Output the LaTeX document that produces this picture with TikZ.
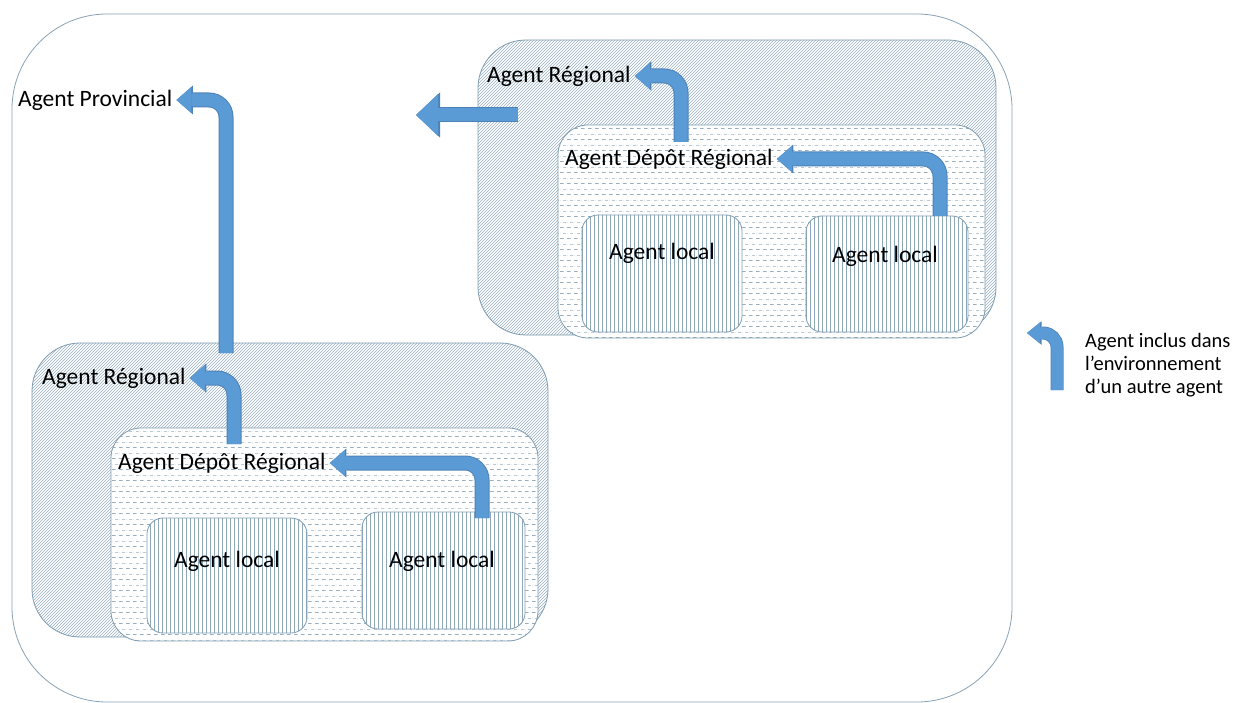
\documentclass[tikz,border=0pt]{standalone}
\usepackage{fontspec}
\setmainfont{Carlito}
\usetikzlibrary{arrows.meta,patterns.meta}
\definecolor{arrowblue}{HTML}{5B9BD5}
\definecolor{arrowedge}{HTML}{4D82B8}
\definecolor{boxline}{HTML}{7E9CB1}
\definecolor{envline}{HTML}{8AA2B4}
\definecolor{hatchcol}{HTML}{9AB0C0}
\definecolor{dashcol}{HTML}{98AEBE}
\definecolor{vlinecol}{HTML}{8EA8BA}

\tikzdeclarepattern{name=diaghatch, type=uncolored,
  bounding box={(-1pt,-1pt) and (4pt,4pt)},
  tile size={(3pt,3pt)},
  code={\draw[line width=0.45pt] (0pt,0pt) -- (3pt,3pt);}}
\tikzdeclarepattern{name=vlines, type=uncolored,
  bounding box={(0pt,-0.5pt) and (4pt,4.5pt)},
  tile size={(4pt,4pt)},
  code={\draw[line width=0.6pt] (2pt,-0.5pt) -- (2pt,4.5pt);}}
\tikzdeclarepattern{name=dashrows, type=uncolored,
  bounding box={(0pt,0pt) and (7pt,11pt)},
  tile size={(7pt,11pt)},
  code={\draw[line width=0.7pt] (0pt,2.75pt) -- (4pt,2.75pt) (3.5pt,8.25pt) -- (7pt,8.25pt) (0pt,8.25pt) -- (0.5pt,8.25pt);}}

\begin{document}
\begin{tikzpicture}[x=1pt,y=-1pt,
  envbox/.style={draw=envline, line width=0.8pt, rounded corners=95pt, inner sep=0pt},
  regbox/.style={draw=boxline, line width=0.8pt, rounded corners=48pt, inner sep=0pt, preaction={fill=white}, pattern=diaghatch, pattern color=hatchcol},
  depotbox/.style={draw=boxline, line width=0.8pt, rounded corners=30pt, inner sep=0pt, preaction={fill=white}, pattern=dashrows, pattern color=dashcol},
  localbox/.style={draw=boxline, line width=0.8pt, rounded corners=16pt, inner sep=0pt, preaction={fill=white}, pattern=vlines, pattern color=vlinecol},
  lbl/.style={font=\fontsize{23.5}{28}\selectfont, inner xsep=4pt, inner ysep=1pt},
  legendtext/.style={font=\fontsize{20.5}{23}\selectfont, align=left, inner sep=0pt},
  flowedge/.style={draw=arrowedge, line width=15pt, rounded corners=17pt, -{Triangle[width=29pt,length=16.5pt,line width=0pt]}},
  flow/.style={draw=arrowblue, line width=13pt, rounded corners=17pt, -{Triangle[width=26pt,length=15pt,line width=0pt]}},
  flowedgebig/.style={draw=arrowedge, line width=15pt, -{Triangle[width=45pt,length=24pt,line width=0pt]}},
  flowbig/.style={draw=arrowblue, line width=13pt, -{Triangle[width=42pt,length=22pt,line width=0pt]}},
  flowedgesmall/.style={draw=arrowedge, line width=13pt, rounded corners=14pt, -{Triangle[width=23.5pt,length=14.5pt,line width=0pt]}},
  flowsmall/.style={draw=arrowblue, line width=11.5pt, rounded corners=14pt, -{Triangle[width=21pt,length=13pt,line width=0pt]}},
]
\useasboundingbox (0,0) rectangle (1234,703);

% environment
\node[envbox, minimum width=1000pt, minimum height=688pt] (env) at (512,358) {};

% top-right regional agent
\node[regbox, minimum width=518pt, minimum height=295pt] (regTR) at (737,187.5) {};
\node[depotbox, minimum width=427pt, minimum height=213pt] (depTR) at (771.5,231.5) {};
\node[localbox, minimum width=160pt, minimum height=117pt] (locTRa) at (662,273.5) {};
\node[localbox, minimum width=162pt, minimum height=116pt] (locTRb) at (887,274) {};

% bottom-left regional agent
\node[regbox, minimum width=516pt, minimum height=294pt] (regBL) at (290,490) {};
\node[depotbox, minimum width=427pt, minimum height=213pt] (depBL) at (324.5,534.5) {};
\node[localbox, minimum width=160pt, minimum height=115pt] (locBLa) at (227,575.5) {};
\node[localbox, minimum width=163pt, minimum height=117pt] (locBLb) at (443.5,570.5) {};

% labels
\node[lbl, anchor=west] (tRegTR) at (483,76) {Agent Régional};
\node[lbl, anchor=west] (tDepTR) at (561,159) {Agent Dépôt Régional};
\node[lbl] (tLocTRa) at (662,253) {Agent local};
\node[lbl] (tLocTRb) at (885,256) {Agent local};
\node[lbl, anchor=west] (tProv) at (14,100) {Agent Provincial};
\node[lbl, anchor=west] (tRegBL) at (38,378) {Agent Régional};
\node[lbl, anchor=west] (tDepBL) at (114,463) {Agent Dépôt Régional};
\node[lbl] (tLocBLa) at (227,561) {Agent local};
\node[lbl] (tLocBLb) at (442,561) {Agent local};
\node[legendtext, anchor=west] (tLegend) at (1085,365) {Agent inclus dans\\l’environnement\\d’un autre agent};

% arrow anchors
\coordinate (a1s) at (681,142);
\coordinate (a2s) at (940,216);
\coordinate (a3s) at (518,115);
\coordinate (a3e) at (416,115);
\coordinate (a4s) at (226,353);
\coordinate (a5s) at (234,444);
\coordinate (a6s) at (482,518);
\coordinate (lgs) at (1057,390);
\coordinate (lge) at (1027,333);

% arrows
\draw[flowedge] (a1s) |- (tRegTR.east);
\draw[flow] (a1s) |- (tRegTR.east);
\draw[flowedge] (a2s) |- (tDepTR.east);
\draw[flow] (a2s) |- (tDepTR.east);
\draw[flowedgebig] (a3s) -- (a3e);
\draw[flowbig] (a3s) -- (a3e);
\draw[flowedge] (a4s) |- (tProv.east);
\draw[flow] (a4s) |- (tProv.east);
\draw[flowedge] (a5s) |- (tRegBL.east);
\draw[flow] (a5s) |- (tRegBL.east);
\draw[flowedge] (a6s) |- (tDepBL.east);
\draw[flow] (a6s) |- (tDepBL.east);
\draw[flowedgesmall] (lgs) |- (lge);
\draw[flowsmall] (lgs) |- (lge);
\end{tikzpicture}
\end{document}
